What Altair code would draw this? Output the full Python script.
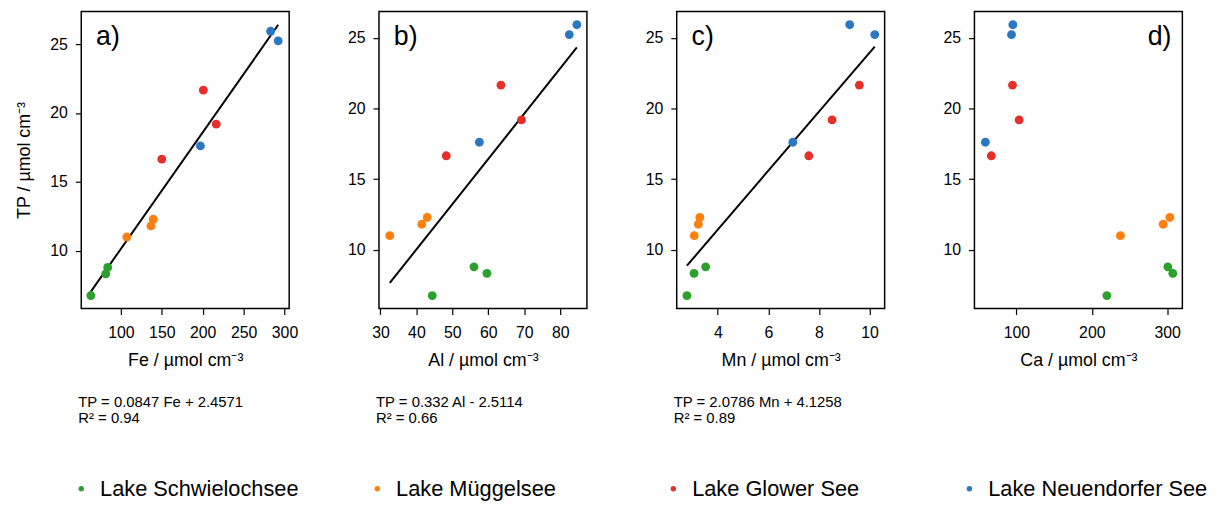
import altair as alt
import pandas as pd

lake_order = ["Lake Schwielochsee", "Lake Müggelsee", "Lake Glower See", "Lake Neuendorfer See"]
lake_colors = ["#2ca02c", "#ff7f0e", "#e52f28", "#2b78c2"]

lakes = ["Lake Schwielochsee"] * 3 + ["Lake Müggelsee"] * 3 + ["Lake Glower See"] * 3 + ["Lake Neuendorfer See"] * 3
tp = [6.74, 8.32, 8.78, 10.99, 11.80, 12.28, 16.65, 21.66, 19.19, 17.61, 25.94, 25.24]
fe = [63.3, 81.5, 83.9, 107.3, 136.7, 139.5, 150.0, 200.8, 216.5, 197.2, 283.0, 292.3]
al = [44.4, 59.6, 56.0, 32.6, 41.5, 43.0, 48.3, 63.5, 69.2, 57.5, 84.6, 82.5]
mn = [2.78, 3.06, 3.52, 3.07, 3.23, 3.29, 7.60, 9.60, 8.52, 6.97, 9.22, 10.21]
ca = [220.0, 307.5, 300.9, 238.0, 294.7, 303.5, 66.6, 94.7, 103.5, 58.7, 95.2, 93.4]

panel_tags = ["a)", "b)", "c)", "d)"]
x_titles = ["Fe / µmol cm⁻³", "Al / µmol cm⁻³", "Mn / µmol cm⁻³", "Ca / µmol cm⁻³"]
y_title = "TP / µmol cm⁻³"
x_ticks = [[100, 150, 200, 250, 300], [30, 40, 50, 60, 70, 80], [4, 6, 8, 10], [100, 200, 300]]
y_ticks = [10, 15, 20, 25]
x_domains = [[51.6, 305.7], [29.6, 87.4], [2.375, 10.6], [44.2, 320.2]]
y_domains = [[5.8, 27.38], [5.83, 26.88], [5.83, 26.88], [5.83, 26.88]]
equations = ["TP = 0.0847 Fe + 2.4571", "TP = 0.332 Al - 2.5114", "TP = 2.0786 Mn + 4.1258"]
r_squared = ["R² = 0.94", "R² = 0.66", "R² = 0.89"]

df = pd.DataFrame({"Lake": lakes, "TP": tp, "Fe": fe, "Al": al, "Mn": mn, "Ca": ca})
fields = ["Fe", "Al", "Mn", "Ca"]

FONT = "Liberation Sans"
W, H = 210, 300

legend = alt.Legend(
    orient="none", legendX=-11, legendY=471, direction="horizontal", columns=4,
    gridAlign="all", columnPadding=47, symbolType="circle", symbolSize=30,
    symbolStrokeWidth=0, symbolOpacity=1, labelFontSize=22, labelFont=FONT,
    labelColor="black", labelOffset=8, title=None, labelLimit=400,
)

one = pd.DataFrame({"k": [0]})


def panel(i):
    field = fields[i]
    base = alt.Chart(df)
    yaxis = alt.Axis(values=y_ticks, title=y_title if i == 0 else None, titlePadding=16)
    xenc = alt.X(f"{field}:Q", scale=alt.Scale(domain=x_domains[i], nice=False, zero=False),
                 axis=alt.Axis(values=x_ticks[i], title=x_titles[i], titlePadding=12, labelPadding=10))
    yenc = alt.Y("TP:Q", scale=alt.Scale(domain=y_domains[i], nice=False, zero=False), axis=yaxis)
    pts = base.mark_circle(size=80, opacity=1).encode(
        x=xenc, y=yenc,
        color=alt.Color("Lake:N", scale=alt.Scale(domain=lake_order, range=lake_colors), legend=legend),
    )
    layers = []
    if i < 3:
        reg = base.transform_regression(field, "TP").mark_line(color="black", strokeWidth=2).encode(
            x=f"{field}:Q", y="TP:Q")
        layers.append(reg)
    layers.append(pts)
    if i < 3:
        tag = alt.Chart(one).mark_text(fontSize=27, font=FONT, align="left", baseline="alphabetic",
                                       color="black").encode(
            x=alt.value(15), y=alt.value(34), text=alt.value(panel_tags[i]))
    else:
        tag = alt.Chart(one).mark_text(fontSize=27, font=FONT, align="right", baseline="alphabetic",
                                       color="black").encode(
            x=alt.value(199), y=alt.value(34), text=alt.value(panel_tags[i]))
    layers.append(tag)
    if i < 3:
        eq1 = alt.Chart(one).mark_text(fontSize=15, font=FONT, align="left", baseline="middle",
                                       color="black").encode(
            x=alt.value(-3), y=alt.value(395), text=alt.value(equations[i]))
        eq2 = alt.Chart(one).mark_text(fontSize=15, font=FONT, align="left", baseline="middle",
                                       color="black").encode(
            x=alt.value(-3), y=alt.value(411), text=alt.value(r_squared[i]))
        layers += [eq1, eq2]
    return alt.layer(*layers).properties(width=W, height=H)


chart = alt.hconcat(*[panel(i) for i in range(4)], spacing=90.7, bounds="flush").properties(
    padding={"left": 7, "top": 0, "right": 0, "bottom": 0}
).configure_view(
    stroke="black", strokeWidth=1.5
).configure_axis(
    domain=False, grid=False, ticks=True, tickColor="black", tickSize=6, tickWidth=1.2,
    labelColor="black", labelFont=FONT, labelFontSize=16, labelPadding=8, labelFlush=False,
    titleFont=FONT, titleFontSize=18, titleFontWeight="normal", titleColor="black",
)

chart.save("out.html", embed_options={"renderer": "svg", "actions": False})
